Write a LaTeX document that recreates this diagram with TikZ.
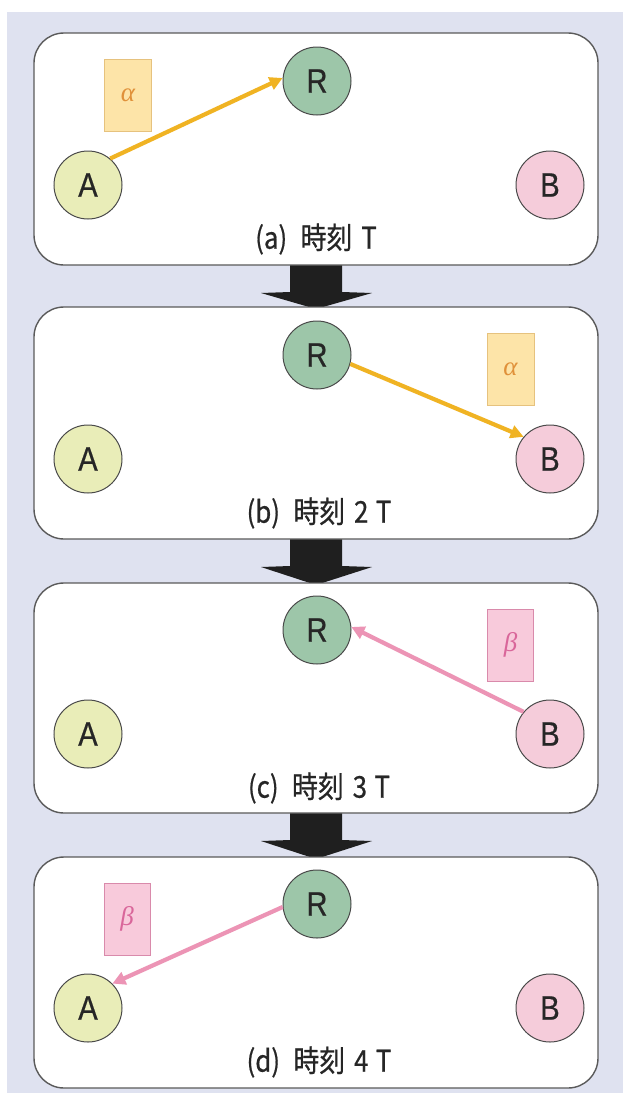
\documentclass[tikz,border=0pt]{standalone}
\usepackage{fontspec}
\usetikzlibrary{arrows.meta}
\newfontfamily\cjk[FakeStretch=0.86,FakeBold=0.6]{Noto Sans CJK JP}
\newfontfamily\lett[FakeStretch=0.86,FakeBold=0.5]{Liberation Sans}
\newfontfamily\grk[ItalicFont=Liberation Serif Italic]{Liberation Serif}
\definecolor{bgc}{HTML}{DFE2F0}
\definecolor{pborder}{HTML}{5A5A5A}
\definecolor{cA}{HTML}{E9EDB8}
\definecolor{cR}{HTML}{9DC6A9}
\definecolor{cB}{HTML}{F5CCDA}
\definecolor{cborder}{HTML}{4A4A4A}
\definecolor{yarr}{HTML}{F0B323}
\definecolor{parr}{HTML}{EC94B5}
\definecolor{abox}{HTML}{FDE4A8}
\definecolor{aboxd}{HTML}{E6C27E}
\definecolor{atext}{HTML}{E0913A}
\definecolor{bbox}{HTML}{F8CADB}
\definecolor{bboxd}{HTML}{D98AAB}
\definecolor{btext}{HTML}{D9669A}
\begin{document}
\begin{tikzpicture}[x=1pt,y=-1pt,
  panel/.style={draw=pborder,fill=white,line width=1.4pt,rounded corners=30pt},
  station/.style={circle,draw=cborder,line width=1pt,minimum size=68pt,inner sep=0pt,font=\lett\fontsize{34}{34}\selectfont,text=black!85},
  caption/.style={font=\cjk\fontsize{30}{30}\selectfont,text=black!85},
  abx/.style={draw=aboxd,fill=abox,line width=0.8pt,minimum width=47pt,minimum height=72pt,inner sep=0pt,text=atext,font=\grk\itshape\fontsize{27}{27}\selectfont},
  bbx/.style={draw=bboxd,fill=bbox,line width=0.8pt,minimum width=46pt,minimum height=72pt,inner sep=0pt,text=btext,font=\grk\itshape\fontsize{27}{27}\selectfont},
  yline/.style={draw=yarr,line width=4.2pt,-{Triangle[length=13pt,width=13pt]}},
  pline/.style={draw=parr,line width=4.2pt,-{Triangle[length=13pt,width=13pt]}},
  blockarrow/.style={fill=black!88}
]
\useasboundingbox (0,0) rectangle (623,1093);
\fill[white] (0,0) rectangle (623,1093);
\fill[bgc] (7,12) rectangle (623,1093);

% block arrows
\foreach \b/\n in {265/307,539/583,813/857}{
  \fill[blockarrow] (290,\b) -- (342,\b) -- (342,\b+27) -- (372,\b+28) -- (316,\n+2) -- (261,\b+28) -- (290,\b+27) -- cycle;
}

% panel (a)
\draw[panel] (34,33) rectangle (598,265);
\node[station,fill=cA] (A1) at (88,185) {A};
\node[station,fill=cR] (R1) at (317,81) {R};
\node[station,fill=cB] (B1) at (550,185) {B};
\node[abx] (al1) at (128,95) {α};
\node[caption] (c1) at (316,239) {(a)\hspace{0.45em}時刻\hspace{0.3em}T};
\draw[yline] (A1.50) -- (R1.175);

% panel (b)
\draw[panel] (34,307) rectangle (598,539);
\node[station,fill=cA] (A2) at (88,459) {A};
\node[station,fill=cR] (R2) at (317,355) {R};
\node[station,fill=cB] (B2) at (550,459) {B};
\node[abx] (al2) at (510.5,369) {α};
\node[caption] (c2) at (319,513) {(b)\hspace{0.45em}時刻\hspace{0.3em}2\hspace{0.25em}T};
\draw[yline] (R2.-15) -- (B2.140);

% panel (c)
\draw[panel] (34,583) rectangle (598,813);
\node[station,fill=cA] (A3) at (88,734) {A};
\node[station,fill=cR] (R3) at (317,630) {R};
\node[station,fill=cB] (B3) at (550,734) {B};
\node[bbx] (be3) at (510.5,645) {β};
\node[caption] (c3) at (319,788) {(c)\hspace{0.45em}時刻\hspace{0.3em}3\hspace{0.25em}T};
\draw[pline] (B3.140) -- (R3.5);

% panel (d)
\draw[panel] (34,857) rectangle (598,1088);
\node[station,fill=cA] (A4) at (88,1008) {A};
\node[station,fill=cR] (R4) at (317,904) {R};
\node[station,fill=cB] (B4) at (550,1008) {B};
\node[bbx] (be4) at (127,919) {β};
\node[caption] (c4) at (319,1062) {(d)\hspace{0.45em}時刻\hspace{0.3em}4\hspace{0.25em}T};
\draw[pline] (R4.185) -- (A4.45);
\end{tikzpicture}
\end{document}
